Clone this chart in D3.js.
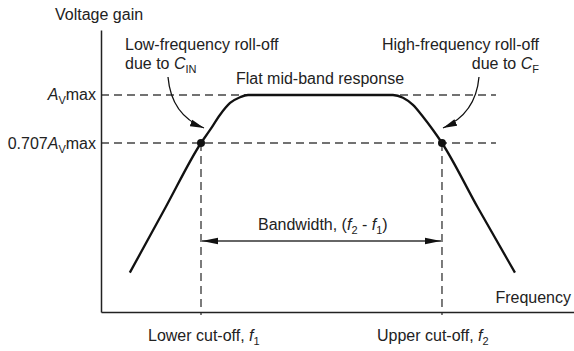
<!DOCTYPE html>
<html>
<head>
<meta charset="utf-8">
<script src="https://cdn.jsdelivr.net/npm/d3@7/dist/d3.min.js"></script>
<style>
  html, body { margin: 0; padding: 0; background: #fff; }
  svg { display: block; }
  text { font-family: "Liberation Sans", Arial, Helvetica, sans-serif; font-size: 16px; fill: #222; }
</style>
</head>
<body>
<svg id="chart" width="574" height="351"></svg>
<script>
// ---- data (frequency in Hz, gain in dB relative to Av max) ----
const freqDomain = [5.69, 4.4e6];
const gainDomain = [-13.56, 4.06];
const curveFreq = [13, 36, 100, 129, 172, 230, 306, 385, 24500, 32700, 43500, 58000, 77300, 100000, 280000, 810000];
const curveGain = [-11.1, -7.05, -3, -2.2, -1.25, -0.5, -0.14, 0, 0, -0.17, -0.62, -1.36, -2.19, -3, -7.05, -11.1];
const cutoffFreq = [100, 100000];         // f1, f2
const refLevels = [0, -3];                // Av max, 0.707 Av max
const refLineEnd = 4.7e5;                 // where horizontal dashed lines end

const svg = d3.select("#chart");
const x = d3.scaleLog().domain(freqDomain).range([101, 574]);
const y = d3.scaleLinear().domain(gainDomain).range([312, 30]);

// defs: arrowheads
const defs = svg.append("defs");
defs.append("marker").attr("id", "ah").attr("viewBox", "0 0 16 8")
  .attr("refX", 16).attr("refY", 4).attr("markerWidth", 16).attr("markerHeight", 8)
  .attr("markerUnits", "userSpaceOnUse").attr("orient", "auto-start-reverse")
  .append("path").attr("d", "M0,0.8 L16,4 L0,7.2 Z").attr("fill", "#111");
defs.append("marker").attr("id", "ah2").attr("viewBox", "0 0 14 8")
  .attr("refX", 14).attr("refY", 4).attr("markerWidth", 14).attr("markerHeight", 8)
  .attr("markerUnits", "userSpaceOnUse").attr("orient", "auto")
  .append("path").attr("d", "M0,0.5 L14,4 L0,7.5 Z").attr("fill", "#111");

// dashed reference lines (horizontal)
svg.append("g").selectAll("line.h").data(refLevels).join("line")
  .attr("x1", x(freqDomain[0])).attr("x2", x(refLineEnd))
  .attr("y1", d => y(d)).attr("y2", d => y(d))
  .attr("stroke", "#444").attr("stroke-width", 1.4).attr("stroke-dasharray", "8,5");

// dashed cut-off lines (vertical)
svg.append("g").selectAll("line.v").data(cutoffFreq).join("line")
  .attr("x1", d => x(d)).attr("x2", d => x(d))
  .attr("y1", y(-3)).attr("y2", y(gainDomain[0]) + 3)
  .attr("stroke", "#444").attr("stroke-width", 1.4).attr("stroke-dasharray", "8,5");

// axes
svg.append("g").attr("transform", `translate(${x(freqDomain[0])},0)`)
  .call(d3.axisLeft(y).tickValues([]).tickSizeOuter(0));
svg.append("g").attr("transform", `translate(0,${y(gainDomain[0])})`)
  .call(d3.axisBottom(x).tickValues([]).tickSizeOuter(0));
svg.selectAll(".domain").attr("stroke", "#222").attr("stroke-width", 1.5);

// response curve
const pts = curveFreq.map((f, i) => [f, curveGain[i]]);
svg.append("path").datum(pts)
  .attr("d", d3.line().x(d => x(d[0])).y(d => y(d[1])).curve(d3.curveMonotoneX))
  .attr("fill", "none").attr("stroke", "#111").attr("stroke-width", 2.3);

// cut-off dots
svg.append("g").selectAll("circle").data(cutoffFreq).join("circle")
  .attr("cx", d => x(d)).attr("cy", y(-3)).attr("r", 4).attr("fill", "#111");

// bandwidth arrow
const bwY = 241;
svg.append("line")
  .attr("x1", x(cutoffFreq[0]) + 1).attr("x2", x(cutoffFreq[1]) - 1)
  .attr("y1", bwY).attr("y2", bwY)
  .attr("stroke", "#333").attr("stroke-width", 1.3)
  .attr("marker-start", "url(#ah)").attr("marker-end", "url(#ah)");

// curved annotation arrows
const lx = x(cutoffFreq[0]), rx = x(cutoffFreq[1]), ly = y(-3);
svg.append("path")
  .attr("d", `M${lx - 33},77 C${lx - 31},100 ${lx - 20},119 ${lx + 3},${ly - 15}`)
  .attr("fill", "none").attr("stroke", "#111").attr("stroke-width", 1.3)
  .attr("marker-end", "url(#ah2)");
svg.append("path")
  .attr("d", `M${rx + 37},77 C${rx + 35},100 ${rx + 24},118 ${rx + 1},${ly - 15}`)
  .attr("fill", "none").attr("stroke", "#111").attr("stroke-width", 1.3)
  .attr("marker-end", "url(#ah2)");

// ---- text ----
function sub(t, s) {
  t.append("tspan").attr("font-style", "italic").text(s.main);
  t.append("tspan").attr("font-size", "11px").attr("dy", 4).text(s.sub);
  if (s.after !== undefined) t.append("tspan").attr("dy", -4).text(s.after);
}

svg.append("text").attr("x", 55).attr("y", 20).text("Voltage gain");
svg.append("text").attr("x", 125).attr("y", 50).text("Low-frequency roll-off");
{
  const t = svg.append("text").attr("x", 125).attr("y", 69);
  t.append("tspan").text("due to ");
  sub(t, { main: "C", sub: "IN" });
}
svg.append("text").attr("x", 320).attr("y", 84).attr("text-anchor", "middle").text("Flat mid-band response");
svg.append("text").attr("x", 539).attr("y", 50).attr("text-anchor", "end").text("High-frequency roll-off");
{
  const t = svg.append("text").attr("x", 539).attr("y", 69).attr("text-anchor", "end");
  t.append("tspan").text("due to ");
  sub(t, { main: "C", sub: "F" });
}
{
  const t = svg.append("text").attr("x", 96).attr("y", y(refLevels[0]) + 5).attr("text-anchor", "end");
  sub(t, { main: "A", sub: "V", after: "max" });
}
{
  const t = svg.append("text").attr("x", 96).attr("y", y(refLevels[1]) + 6).attr("text-anchor", "end");
  t.append("tspan").text("0.707");
  sub(t, { main: "A", sub: "V", after: "max" });
}
{
  const t = svg.append("text").attr("x", 258).attr("y", 230);
  t.append("tspan").text("Bandwidth, (");
  sub(t, { main: "f", sub: "2", after: " - " });
  sub(t, { main: "f", sub: "1", after: ")" });
}
svg.append("text").attr("x", 571).attr("y", 303).attr("text-anchor", "end").text("Frequency");
{
  const t = svg.append("text").attr("x", 148).attr("y", 341);
  t.append("tspan").text("Lower cut-off, ");
  sub(t, { main: "f", sub: "1" });
}
{
  const t = svg.append("text").attr("x", 377).attr("y", 341);
  t.append("tspan").text("Upper cut-off, ");
  sub(t, { main: "f", sub: "2" });
}
</script>
</body>
</html>
